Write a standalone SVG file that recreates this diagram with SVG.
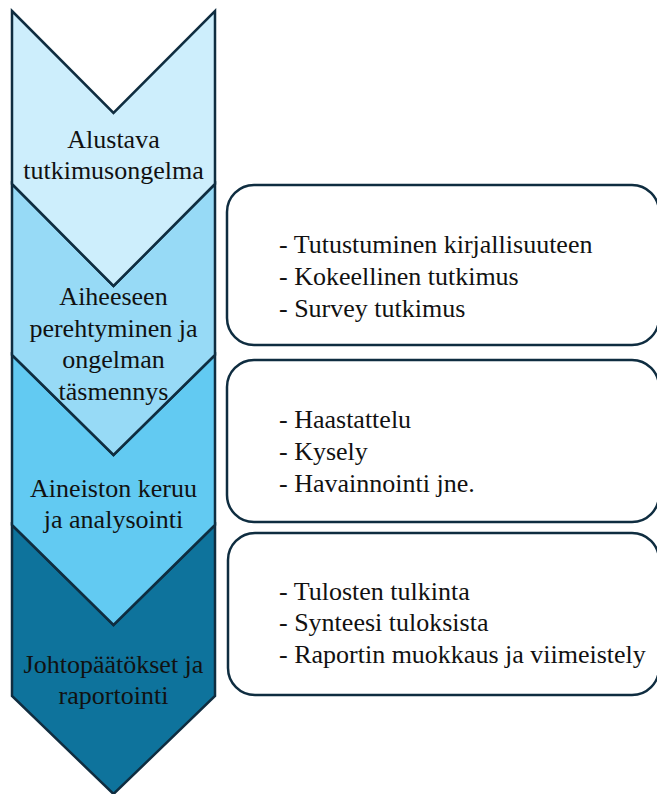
<svg xmlns="http://www.w3.org/2000/svg" width="657" height="794" viewBox="0 0 657 794">
<style>
.chev{stroke:#0f2d40;stroke-width:2.5;stroke-linejoin:miter}
.box{fill:#ffffff;stroke:#0f2d40;stroke-width:2.5}
.lbl{font-family:'Liberation Serif','Times New Roman',serif;font-size:26px;fill:#111111;text-anchor:middle}
.item{font-family:'Liberation Serif','Times New Roman',serif;font-size:26px;fill:#111111}
</style>
<rect width="657" height="794" fill="#ffffff"/>
<g id="step4">
<path class="chev" fill="#0e739c" d="M12,525 L113.5,625 L215,525 L215,696 L113.5,794 L12,696 Z"/>
</g>
<g id="step3">
<path class="chev" fill="#62caf2" d="M12,355 L113.5,455 L215,355 L215,525 L113.5,625 L12,525 Z"/>
</g>
<g id="step2">
<path class="chev" fill="#97daf6" d="M12,184 L113.5,286 L215,184 L215,355 L113.5,455 L12,355 Z"/>
</g>
<g id="step1">
<path class="chev" fill="#cdeefc" d="M12,11 L113.5,113 L215,11 L215,184 L113.5,286 L12,184 Z"/>
</g>
<g id="step1-text">
<text class="lbl" x="113.5" y="148">Alustava</text>
<text class="lbl" x="113.5" y="179">tutkimusongelma</text>
</g>
<g id="step2-text">
<text class="lbl" x="113.5" y="305">Aiheeseen</text>
<text class="lbl" x="113.5" y="337">perehtyminen ja</text>
<text class="lbl" x="113.5" y="368">ongelman</text>
<text class="lbl" x="113.5" y="400">täsmennys</text>
</g>
<g id="step3-text">
<text class="lbl" x="113.5" y="497">Aineiston keruu</text>
<text class="lbl" x="113.5" y="528">ja analysointi</text>
</g>
<g id="step4-text">
<text class="lbl" x="113.5" y="673">Johtopäätökset ja</text>
<text class="lbl" x="113.5" y="704">raportointi</text>
</g>
<g id="box1">
<rect class="box" x="227" y="185" width="432" height="160" rx="27" ry="27"/>
<text class="item" x="279" y="253">- Tutustuminen kirjallisuuteen</text>
<text class="item" x="279" y="285">- Kokeellinen tutkimus</text>
<text class="item" x="279" y="317">- Survey tutkimus</text>
</g>
<g id="box2">
<rect class="box" x="227" y="360" width="432" height="162" rx="27" ry="27"/>
<text class="item" x="279" y="428">- Haastattelu</text>
<text class="item" x="279" y="460">- Kysely</text>
<text class="item" x="279" y="492">- Havainnointi jne.</text>
</g>
<g id="box3">
<rect class="box" x="228" y="533" width="431" height="162" rx="27" ry="27"/>
<text class="item" x="279" y="600">- Tulosten tulkinta</text>
<text class="item" x="279" y="631">- Synteesi tuloksista</text>
<text class="item" x="279" y="663">- Raportin muokkaus ja viimeistely</text>
</g>
<g id="connectors"></g>
</svg>
